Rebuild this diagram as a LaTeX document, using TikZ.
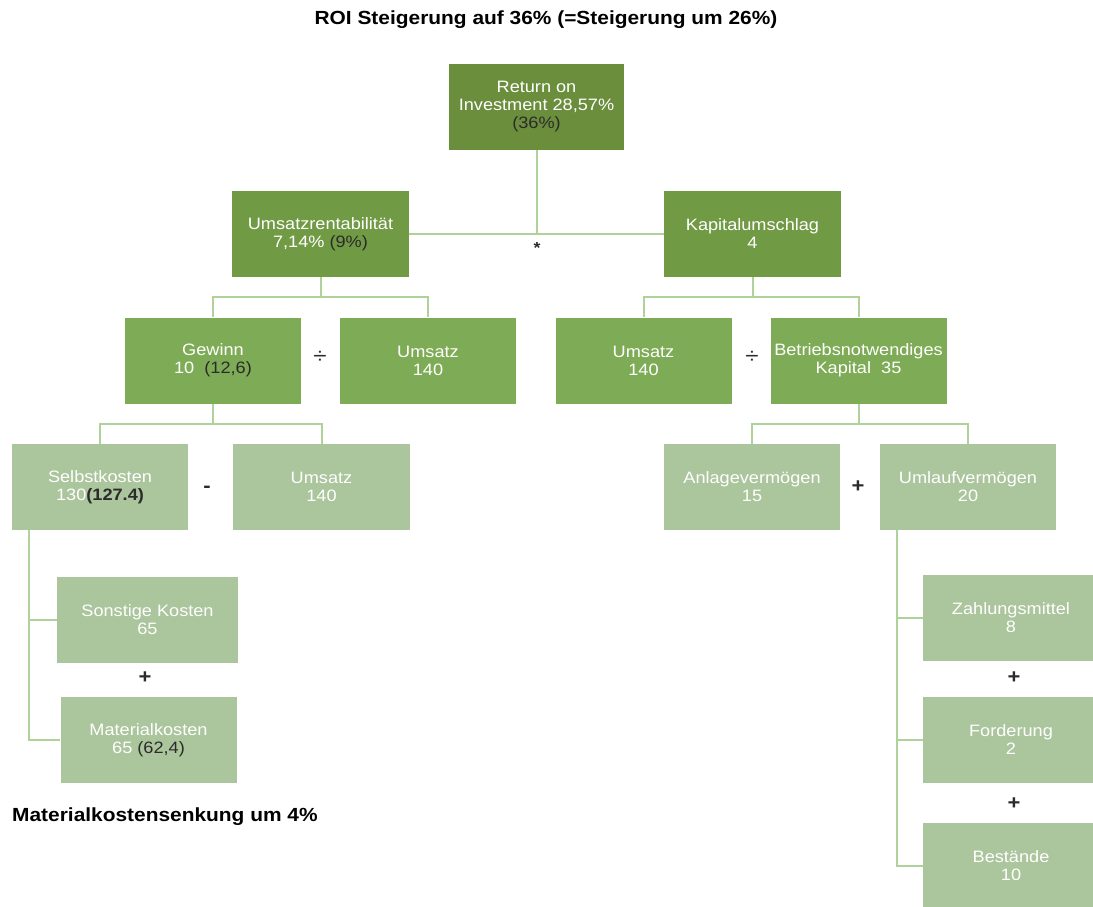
\documentclass[tikz,border=0pt]{standalone}
\usepackage{fontspec}
\setmainfont[FakeStretch=1.1]{Liberation Sans}
\usepackage{xcolor}
\usepackage{tikz}
\usetikzlibrary{calc}
\definecolor{roigreen}{HTML}{6B8E3D}
\definecolor{midgreen}{HTML}{719A45}
\definecolor{lightgreen}{HTML}{7EAB55}
\definecolor{palegreen}{HTML}{ABC59C}
\definecolor{linegreen}{HTML}{AFD29B}
\definecolor{darktxt}{HTML}{2B2B2B}
\tikzset{
  kbox/.style={rectangle,minimum width=176pt,minimum height=86pt,inner sep=0pt,align=center,
    text=white,font=\fontsize{16.5}{18}\selectfont},
  conn/.style={draw=linegreen,line width=2pt},
  op/.style={inner sep=0pt,text=darktxt,font=\fontsize{22}{22}\selectfont}
}
\newcommand{\dk}[1]{\textcolor{darktxt}{#1}}

\begin{document}
\begin{tikzpicture}[x=1pt,y=-1pt]
\path[use as bounding box,clip] (0,0) rectangle (1093,906);
\node [font=\fontsize{19}{22}\selectfont\bfseries] (title) at (546,20) {ROI Steigerung auf 36\% (=Steigerung um 26\%)};
% first and second level
\node [kbox,fill=roigreen,minimum width=175pt] (roi) at (536.5,107) {Return on\\Investment 28,57\%\\\dk{(36\%)}};
\node [kbox,fill=midgreen,minimum width=177pt] (ur) at (320.5,234) {Umsatzrentabilität\\7,14\% \dk{(9\%)}};
\node [kbox,fill=midgreen,minimum width=177pt] (ku) at (752.5,234) {Kapitalumschlag\\4};
\draw [conn] (ur.east) -- (ku.west);
\draw [conn] (roi.south) -- (roi.south |- ur.east);
\node [op,font=\fontsize{16}{16}\selectfont\bfseries] (mul) at (537,248) {*};
% third level
\node [kbox,fill=lightgreen] (gew) at (213,360.5) {Gewinn\\10\ \ \dk{(12,6)}};
\node [kbox,fill=lightgreen] (umsa) at (428,360.5) {Umsatz\\140};
\node [kbox,fill=lightgreen] (umsb) at (643.5,360.5) {Umsatz\\140};
\node [kbox,fill=lightgreen] (bnk) at (858.5,360.5) {Betriebsnotwendiges\\Kapital\ \ 35};
\node [op] (diva) at (320,357) {÷};
\node [op] (divb) at (752,357) {÷};
\draw [conn] (ur.south) -- ++(0,20) coordinate (ja);
\draw [conn] (gew.north) |- (ja) -| (umsa.north);
\draw [conn] (ku.south) -- ++(0,20) coordinate (jb);
\draw [conn] (umsb.north) |- (jb) -| (bnk.north);
% fourth level
\node [kbox,fill=palegreen] (sk) at (100,487) {Selbstkosten\\130\dk{\bfseries(127.4)}};
\node [kbox,fill=palegreen,minimum width=177pt] (umsc) at (321.5,487) {Umsatz\\140};
\node [kbox,fill=palegreen] (av) at (752,487) {Anlagevermögen\\15};
\node [kbox,fill=palegreen] (uv) at (968,487) {Umlaufvermögen\\20};
\node [op,font=\fontsize{20}{20}\selectfont\bfseries] (minus) at (207,489) {-};
\node [op,font=\fontsize{20}{20}\selectfont\bfseries] (plusa) at (858,487) {+};
\draw [conn] (gew.south) -- ++(0,20) coordinate (jc);
\draw [conn] (sk.north) |- (jc) -| (umsc.north);
\draw [conn] (bnk.south) -- ++(0,20) coordinate (jd);
\draw [conn] (av.north) |- (jd) -| (uv.north);
% fifth level, left
\node [kbox,fill=palegreen,minimum width=181pt] (sonst) at (147.5,619.5) {Sonstige Kosten\\65};
\node [kbox,fill=palegreen,minimum width=176pt] (mat) at (148.5,740) {Materialkosten\\65 \dk{(62,4)}};
\node [op,font=\fontsize{20}{20}\selectfont\bfseries] (plusb) at (145,678) {+};
\draw [conn] ($(sk.south west)+(17,0)$) coordinate (je) |- (sonst.west);
\draw [conn] (je) |- (mat.west);
\node [anchor=west,inner sep=0pt,font=\fontsize{19}{22}\selectfont\bfseries] (senk) at (12,817) {Materialkostensenkung um 4\%};
% fifth level, right
\node [kbox,fill=palegreen] (zm) at (1011,617.5) {Zahlungsmittel\\8};
\node [kbox,fill=palegreen] (ford) at (1011,740) {Forderung\\2};
\node [kbox,fill=palegreen] (best) at (1011,866) {Bestände\\10};
\node [op,font=\fontsize{20}{20}\selectfont\bfseries] (plusc) at (1014,678) {+};
\node [op,font=\fontsize{20}{20}\selectfont\bfseries] (plusd) at (1014,804) {+};
\draw [conn] ($(uv.south west)+(17,0)$) coordinate (jf) |- (zm.west);
\draw [conn] (jf) |- (ford.west);
\draw [conn] (jf) |- (best.west);
\end{tikzpicture}
\end{document}
